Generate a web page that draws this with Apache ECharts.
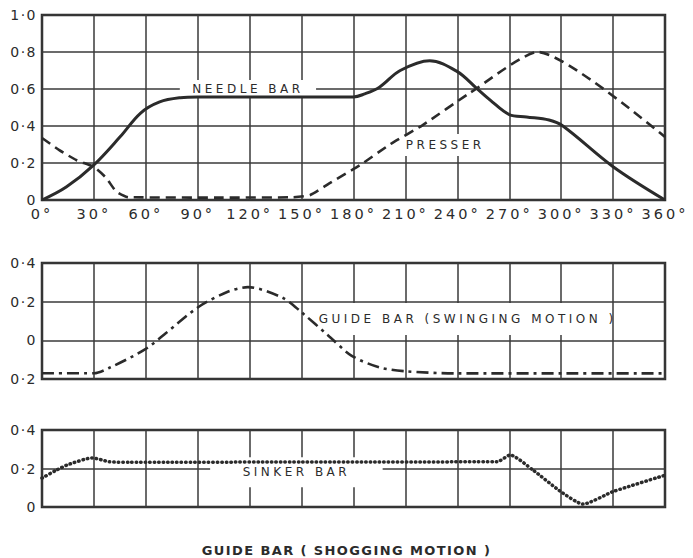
<!DOCTYPE html>
<html><head><meta charset="utf-8">
<script src="https://cdn.jsdelivr.net/npm/echarts@6/dist/echarts.min.js"></script>
<style>
html,body{margin:0;padding:0;background:#fff;}
#c{width:693px;height:558px;}
#c text{letter-spacing:1.5px;}
#c text[style*="14.5px"]{letter-spacing:3px;}
#c text[style*="12px"]{letter-spacing:3.5px;}
#c text[style*="13px"]{letter-spacing:1.4px;}
</style></head><body><div id="c"></div>
<script>
// ---- data ----
const degreeTicks = [0, 30, 60, 90, 120, 150, 180, 210, 240, 270, 300, 330, 360];

const needleDeg = [0, 14, 30, 45, 57, 68, 80, 90, 150, 180, 186, 195, 207, 224, 240, 251, 259, 270, 280, 293, 301, 330, 360];
const needleVal = [0, 0.07, 0.19, 0.34, 0.47, 0.53, 0.553, 0.557, 0.557, 0.557, 0.572, 0.61, 0.70, 0.753, 0.694, 0.605, 0.54, 0.462, 0.449, 0.432, 0.40, 0.18, 0];

const presserDeg = [0, 10, 20, 30, 37, 43, 50, 100, 145, 155, 166, 184, 201, 220, 247, 286.6, 360];
const presserVal = [0.335, 0.27, 0.215, 0.178, 0.12, 0.045, 0.015, 0.013, 0.015, 0.027, 0.09, 0.19, 0.30, 0.405, 0.577, 0.80, 0.34];

const swingDeg = [0, 30, 39, 59.5, 72, 90, 107, 119, 139, 150, 166, 179, 195, 210, 240, 300, 360];
const swingVal = [-0.17, -0.17, -0.142, -0.047, 0.04, 0.17, 0.25, 0.275, 0.22, 0.145, 0.02, -0.08, -0.14, -0.16, -0.171, -0.171, -0.171];

const sinkerDeg = [0, 8, 15, 29, 39, 50, 150, 263, 270.5, 284, 299, 312.6, 330, 360];
const sinkerVal = [0.15, 0.19, 0.22, 0.255, 0.235, 0.232, 0.234, 0.235, 0.27, 0.19, 0.085, 0.015, 0.08, 0.165];

const labelNeedle = { text: 'NEEDLE BAR', deg: 119, val: 0.6 };
const labelPresser = { text: 'PRESSER', deg: 233, val: 0.297 };
const labelSwing = { text: 'GUIDE BAR (SWINGING MOTION )', deg: 246, val: 0.11 };
const labelSinker = { text: 'SINKER BAR', deg: 147, val: 0.18 };
const bottomTitle = 'GUIDE BAR ( SHOGGING MOTION )';

// ---- chart ----
const INK = '#2b2b2b';
const FONT = 'DejaVu Sans';
const zip = (a, b) => a.map((x, i) => [x, b[i]]);
const dotNum = v => {
  const r = Math.round(Math.abs(v) * 10);
  if (r === 0) return '0';
  if (r === 10) return '1·0';
  return '0·' + r;
};

const grids = [
  { left: 42, top: 15, width: 623, height: 185 },
  { left: 42, top: 263, width: 623, height: 116 },
  { left: 42, top: 430, width: 623, height: 77 }
].map(g => Object.assign(g, { show: true, borderColor: INK, borderWidth: 2.5, backgroundColor: 'transparent' }));

const xAxes = [0, 1, 2].map(i => ({
  type: 'value', gridIndex: i, min: 0, max: 360, interval: 30,
  axisLine: { show: false }, axisTick: { show: false },
  splitLine: { show: true, lineStyle: { color: '#3a3a3a', width: 1.5 } },
  axisLabel: i === 0 ? { show: true, formatter: v => v + '°', color: INK, fontSize: 14.5, fontFamily: FONT, margin: 6 } : { show: false }
}));

const yRanges = [[0, 1], [-0.2, 0.4], [0, 0.4]];
const yAxes = yRanges.map((r, i) => ({
  type: 'value', gridIndex: i, min: r[0], max: r[1], interval: 0.2,
  axisLine: { show: false }, axisTick: { show: false },
  splitLine: { show: true, lineStyle: { color: '#3a3a3a', width: 1.5 } },
  axisLabel: { formatter: dotNum, color: INK, fontSize: 14, fontFamily: FONT, margin: 5 }
}));

function boxLabel(l, pad) {
  return {
    z: 1,
    symbol: 'rect', symbolSize: 1, itemStyle: { color: 'rgba(0,0,0,0)' },
    silent: true,
    data: [{
      coord: [l.deg, l.val],
      label: {
        show: true, position: 'inside', formatter: l.text,
        color: INK, fontSize: 12, fontFamily: FONT,
        backgroundColor: '#fff', padding: pad
      }
    }]
  };
}

const option = {
  animation: false,
  backgroundColor: '#fff',
  title: {
    text: bottomTitle, left: 'center', top: 539,
    textStyle: { color: INK, fontSize: 13, fontWeight: 'bold', fontFamily: FONT }
  },
  grid: grids, xAxis: xAxes, yAxis: yAxes,
  series: [
    { type: 'line', xAxisIndex: 0, yAxisIndex: 0, z: 3, data: zip(needleDeg, needleVal), smooth: 0.35, showSymbol: false,
      lineStyle: { color: INK, width: 3 }, markPoint: boxLabel(labelNeedle, [3, 30]) },
    { type: 'line', xAxisIndex: 0, yAxisIndex: 0, z: 3, data: zip(presserDeg, presserVal), smooth: 0.2, showSymbol: false,
      lineStyle: { color: INK, width: 2.6, type: [10, 6] }, markPoint: boxLabel(labelPresser, [5, 14]) },
    { type: 'line', xAxisIndex: 1, yAxisIndex: 1, z: 3, data: zip(swingDeg, swingVal), smooth: 0.3, showSymbol: false,
      lineStyle: { color: INK, width: 2.6, type: [12, 5, 3, 5] }, markPoint: boxLabel(labelSwing, [10, 40]) },
    { type: 'line', xAxisIndex: 2, yAxisIndex: 2, z: 3, data: zip(sinkerDeg, sinkerVal), smooth: 0.2, showSymbol: false,
      lineStyle: { color: INK, width: 3.5, type: [0.5, 4], cap: 'round' }, markPoint: boxLabel(labelSinker, [9, 50]) }
  ]
};

const chart = echarts.init(document.getElementById('c'), null, { renderer: 'svg' });
chart.setOption(option);
</script></body></html>
